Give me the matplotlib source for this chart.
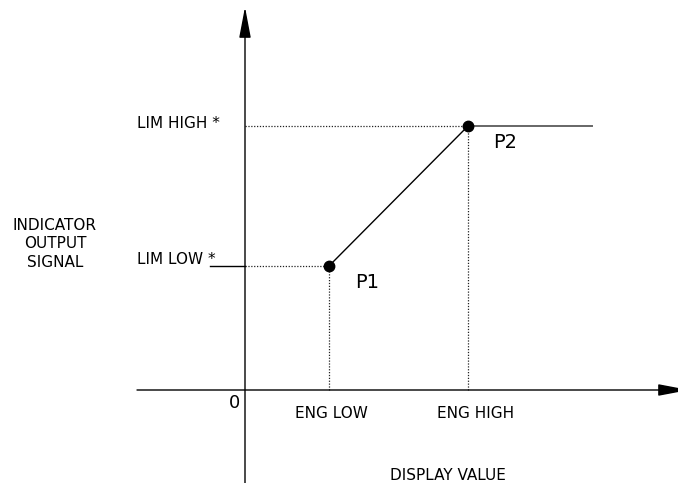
import numpy as np
import matplotlib
matplotlib.use('Agg')
import matplotlib.pyplot as plt

# Transfer curve points (display value vs indicator output signal)
eng_low, eng_high = 84, 223
lim_low, lim_high = 124, 264
curve_x = [eng_low, eng_high]
curve_y = [lim_low, lim_high]
point_names = ['P1', 'P2']

# Limits of the drawing in data units
x_min, x_max = -245, 433
y_min, y_max = -93, 390

fig = plt.figure(figsize = (6.78, 4.83), dpi = 100)
ax = fig.add_axes([0, 0, 1, 1])
ax.set_xlim(x_min, x_max)
ax.set_ylim(y_min, y_max)
ax.axis('off')

dot = dict(color = '#222222', lw = 0.9, linestyle = (0, (1, 1.3)))

# Axes with arrows
ax.annotate('', xy = (0, 383), xytext = (0, y_min), annotation_clip = False,
    arrowprops = dict(arrowstyle = '-|>,head_length=1.9,head_width=0.36',
                      lw = 1.0, color = 'black', shrinkA = 0, shrinkB = 0, mutation_scale = 10))
ax.annotate('', xy = (444, 0), xytext = (-108, 0), annotation_clip = False,
    arrowprops = dict(arrowstyle = '-|>,head_length=1.9,head_width=0.36',
                      lw = 1.0, color = 'black', shrinkA = 0, shrinkB = 0, mutation_scale = 10))

# Guide lines
ax.plot([-35, 0], [lim_low, lim_low], color = 'black', lw = 1.0)
ax.plot([0, eng_low], [lim_low, lim_low], **dot)
ax.plot([0, eng_high], [lim_high, lim_high], **dot)
ax.plot([eng_low, eng_low], [0, lim_low], **dot)
ax.plot([eng_high, eng_high], [0, lim_high], **dot)

# Curve
ax.plot(curve_x, curve_y, color = 'black', lw = 1.0)
ax.plot([eng_high, 347], [lim_high, lim_high], color = '#666666', lw = 1.4)
ax.plot(curve_x, curve_y, 'o', color = 'black', markersize = 7.5)

# Labels
fs = 11
ax.text(-108, lim_high + 2, 'LIM HIGH *', ha = 'left', va = 'center', fontsize = fs)
ax.text(-108, lim_low + 6, 'LIM LOW *', ha = 'left', va = 'center', fontsize = fs)
ax.text(-190, 146, 'INDICATOR\nOUTPUT\nSIGNAL', ha = 'center', va = 'center',
    multialignment = 'center', linespacing = 1.3, fontsize = fs)
ax.text(-10, -13, '0', ha = 'center', va = 'center', fontsize = 13)
ax.text(eng_low + 2, -23, 'ENG LOW', ha = 'center', va = 'center', fontsize = fs)
ax.text(eng_high + 8, -23, 'ENG HIGH', ha = 'center', va = 'center', fontsize = fs)
ax.text(203, -85, 'DISPLAY VALUE', ha = 'center', va = 'center', fontsize = fs)
ax.text(eng_low + 38, lim_low - 16, point_names[0], ha = 'center', va = 'center', fontsize = 14)
ax.text(eng_high + 37, lim_high - 17, point_names[1], ha = 'center', va = 'center', fontsize = 14)

fig.savefig('out.png', dpi = 100)
